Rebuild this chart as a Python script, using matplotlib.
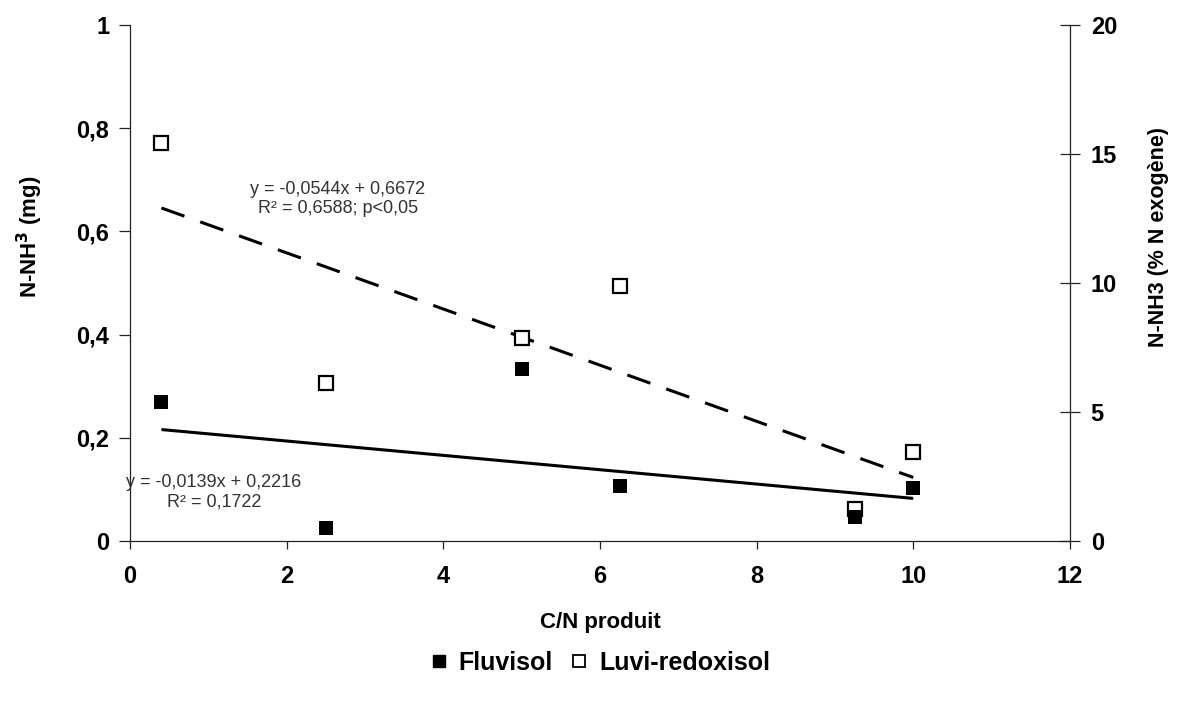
import matplotlib
matplotlib.use("Agg")
import matplotlib.pyplot as plt
from matplotlib.lines import Line2D
from matplotlib.ticker import FuncFormatter

plt.rcParams["font.family"] = ["Liberation Sans", "DejaVu Sans"]

# ---------------------------------------------------------------------------
# Data
# ---------------------------------------------------------------------------
cn_produit = [0.4, 2.5, 5.0, 6.25, 9.25, 10.0]
fluvisol = [0.270, 0.026, 0.333, 0.107, 0.047, 0.103]
luvi_redoxisol = [0.772, 0.306, 0.393, 0.494, 0.063, 0.173]

# trend line coefficients (slope, intercept) as printed
fluv_fit = (-0.0139, 0.2216)
luvi_fit = (-0.0544, 0.6672)
fit_range = [0.4, 10.0]

fluv_eq = "y = -0,0139x + 0,2216\nR² = 0,1722"
luvi_eq = "y = -0,0544x + 0,6672\nR² = 0,6588; p<0,05"

left_ticks = [0, 0.2, 0.4, 0.6, 0.8, 1.0]
right_ticks = [0, 5, 10, 15, 20]
x_ticks = [0, 2, 4, 6, 8, 10, 12]

# ---------------------------------------------------------------------------
# Figure
# ---------------------------------------------------------------------------
AX_C = "#222222"
TICK_FS = 17
fig = plt.figure(figsize=(11.77, 7.02), dpi=100, facecolor="white")
ax = fig.add_axes([0.1105, 0.2293, 0.7985, 0.7351])
ax2 = ax.twinx()

# trend lines
xs = fit_range
ax.plot(xs, [fluv_fit[0] * x + fluv_fit[1] for x in xs],
        color="black", lw=2.2, solid_capstyle="butt", zorder=2)
ax.plot(xs, [luvi_fit[0] * x + luvi_fit[1] for x in xs],
        color="black", lw=2.2, dashes=(8, 5.5), dash_capstyle="butt", zorder=2)

# points
ax.plot(cn_produit, luvi_redoxisol, ls="none", marker="s", ms=9.5,
        mfc="white", mec="black", mew=1.6, zorder=3)
ax.plot(cn_produit, fluvisol, ls="none", marker="s", ms=10,
        mfc="black", mec="black", mew=0, zorder=4)

# equations
ax.text(2.65, 0.663, luvi_eq, ha="center", va="center", multialignment="center",
        fontsize=13, color="#333333", linespacing=1.2)
ax.text(1.07, 0.095, fluv_eq, ha="center", va="center", multialignment="center",
        fontsize=13, color="#333333", linespacing=1.2)

# axes styling
ax.set_xlim(0, 12)
ax.set_ylim(0, 1)
ax2.set_ylim(0, 20)
ax.set_xticks(x_ticks)
ax.set_yticks(left_ticks)
ax2.set_yticks(right_ticks)

comma = FuncFormatter(lambda v, p: f"{v:g}".replace(".", ","))
ax.yaxis.set_major_formatter(comma)

for a in (ax, ax2):
    a.spines["top"].set_visible(False)
    for sp in a.spines.values():
        sp.set_color(AX_C)
        sp.set_linewidth(0.9)
ax.spines["right"].set_visible(False)
ax2.spines["left"].set_visible(False)
ax2.spines["bottom"].set_visible(False)

ax.tick_params(axis="x", direction="out", length=6, width=0.9, color=AX_C,
               pad=11, labelsize=TICK_FS)
ax.tick_params(axis="y", direction="out", length=8, width=0.9, color=AX_C,
               pad=7, labelsize=TICK_FS)
ax2.tick_params(axis="y", direction="inout", length=14, width=0.9, color=AX_C,
                pad=8, labelsize=TICK_FS)
for lab in ax.get_xticklabels() + ax.get_yticklabels() + ax2.get_yticklabels():
    lab.set_fontweight("bold")

ax.set_xlabel("C/N produit", fontsize=16, fontweight="bold")
ax.xaxis.set_label_coords(0.5, -0.138)
ax.set_ylabel("N-NH$^{\\mathbf{3}}$ (mg)", fontsize=16, fontweight="bold")
ax.yaxis.set_label_coords(-0.09, 0.589)
ax2.set_ylabel("N-NH3 (% N exogène)", fontsize=15.5, fontweight="bold")
ax2.yaxis.set_label_coords(1.083, 0.589)

# legend
handles = [
    Line2D([0], [0], ls="none", marker="s", ms=9, mfc="black", mec="black",
           label="Fluvisol"),
    Line2D([0], [0], ls="none", marker="s", ms=8.5, mfc="white", mec="black",
           mew=1.3, label="Luvi-redoxisol"),
]
leg = ax.legend(handles=handles, loc="center", bbox_to_anchor=(0.5, -0.236),
                ncol=2, frameon=False, handlelength=0.7,
                handletextpad=0.45, columnspacing=0.7,
                prop={"weight": "bold", "size": 18})

fig.savefig("out.png", dpi=100, facecolor="white")
